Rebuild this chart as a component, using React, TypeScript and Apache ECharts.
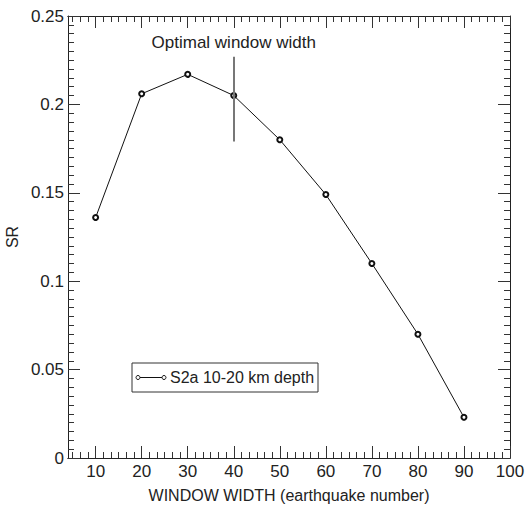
import React, { useEffect, useRef } from "react";
import * as echarts from "echarts";

const windowWidths = [10, 20, 30, 40, 50, 60, 70, 80, 90];
const srValues = [0.136, 0.206, 0.217, 0.205, 0.18, 0.149, 0.11, 0.07, 0.023];
const xMajorTicks = [10, 20, 30, 40, 50, 60, 70, 80, 90, 100];
const optimalWidth = 40;
const optimalSpan = [0.179, 0.227];
const seriesName = "S2a 10-20 km depth";

const xMinorTicks: number[] = [];
for (let k = 0; k <= 60; k++) {
  const v = 100 - (k * 10) / 6;
  if (v > 4 && k % 6 !== 0) xMinorTicks.push(Math.round(v * 1000) / 1000);
}

const FONT = "Liberation Sans, Arial, Helvetica, sans-serif";
const FS = 17;
const FS_NAME = 16;
const TICK = "#333";

export default function App() {
  const ref = useRef<HTMLDivElement>(null);
  useEffect(() => {
    if (!ref.current) return;
    document.body.style.margin = "0";
    const chart = echarts.init(ref.current, null, { renderer: "svg" });
    const axisLine = { show: true, lineStyle: { color: "#222", width: 1 } };
    const baseX = {
      type: "value" as const,
      min: 4,
      max: 100,
      splitLine: { show: false },
      axisLine,
    };
    const baseY = {
      type: "value" as const,
      min: 0,
      max: 0.25,
      interval: 0.05,
      splitLine: { show: false },
      minorSplitLine: { show: false },
      axisLine,
      axisTick: { show: true, inside: true, length: 12, lineStyle: { color: TICK, width: 1 } },
      minorTick: { show: true, splitNumber: 10, length: 6, lineStyle: { color: TICK, width: 1 } },
    };
    chart.setOption({
      animation: false,
      textStyle: { fontFamily: FONT },
      grid: { left: 68, top: 16, right: 17, bottom: 48, containLabel: false, outerBoundsMode: "none" },
      xAxis: [
        {
          ...baseX,
          position: "bottom",
          name: "WINDOW WIDTH (earthquake number)",
          nameLocation: "middle",
          nameGap: 29,
          nameTextStyle: { fontSize: FS_NAME, color: "#222", fontFamily: FONT },
          axisLabel: { customValues: xMajorTicks, fontSize: FS, color: "#222", margin: 5, fontFamily: FONT },
          axisTick: { show: true, inside: true, length: 12, customValues: xMajorTicks, lineStyle: { color: TICK, width: 1 } },
        },
        {
          ...baseX,
          position: "bottom",
          axisLabel: { show: false },
          axisTick: { show: true, inside: true, length: 6, customValues: xMinorTicks, lineStyle: { color: TICK, width: 1 } },
        },
        {
          ...baseX,
          position: "top",
          axisLabel: { show: false },
          axisTick: { show: true, inside: true, length: 12, customValues: xMajorTicks, lineStyle: { color: TICK, width: 1 } },
        },
        {
          ...baseX,
          position: "top",
          axisLabel: { show: false },
          axisTick: { show: true, inside: true, length: 6, customValues: xMinorTicks, lineStyle: { color: TICK, width: 1 } },
        },
      ],
      yAxis: [
        {
          ...baseY,
          position: "left",
          name: "SR",
          nameLocation: "middle",
          nameGap: 43,
          nameTextStyle: { fontSize: FS_NAME, color: "#222", fontFamily: FONT },
          axisLabel: { fontSize: FS, color: "#222", margin: 4, fontFamily: FONT },
        },
        {
          ...baseY,
          position: "right",
          axisLabel: { show: false },
        },
      ],
      series: [
        {
          name: seriesName,
          type: "line",
          xAxisIndex: 0,
          yAxisIndex: 0,
          data: windowWidths.map((w, i) => [w, srValues[i]]),
          symbol: "emptyCircle",
          symbolSize: 5,
          showSymbol: true,
          lineStyle: { color: "#111", width: 1 },
          itemStyle: { color: "#111", borderColor: "#111", borderWidth: 1 },
          markLine: {
            silent: true,
            symbol: ["none", "none"],
            lineStyle: { color: "#777", width: 2, type: "solid" },
            label: {
              show: true,
              position: "end",
              formatter: "Optimal window width",
              fontSize: FS,
              color: "#222",
              fontFamily: FONT,
              distance: 6,
            },
            data: [
              [
                { coord: [optimalWidth, optimalSpan[0]] },
                { coord: [optimalWidth, optimalSpan[1]] },
              ],
            ],
          },
        },
      ],
      graphic: [
        {
          type: "rect",
          shape: { x: 132, y: 363, width: 186, height: 29 },
          style: { fill: "#fff", stroke: "#333", lineWidth: 1 },
          z: 10,
        },
        {
          type: "line",
          shape: { x1: 138, y1: 377.5, x2: 164, y2: 377.5 },
          style: { stroke: "#111", lineWidth: 1 },
          z: 11,
        },
        {
          type: "circle",
          shape: { cx: 138, cy: 377.5, r: 2 },
          style: { fill: "#fff", stroke: "#111", lineWidth: 1 },
          z: 12,
        },
        {
          type: "circle",
          shape: { cx: 164, cy: 377.5, r: 2 },
          style: { fill: "#fff", stroke: "#111", lineWidth: 1 },
          z: 12,
        },
        {
          type: "text",
          x: 170,
          y: 377.5,
          style: {
            text: seriesName,
            font: `${FS_NAME}px ${FONT}`,
            fill: "#222",
            verticalAlign: "middle",
            align: "left",
          },
          z: 12,
        },
      ],
    });
    return () => chart.dispose();
  }, []);
  return <div ref={ref} style={{ width: 527, height: 506 }} />;
}
